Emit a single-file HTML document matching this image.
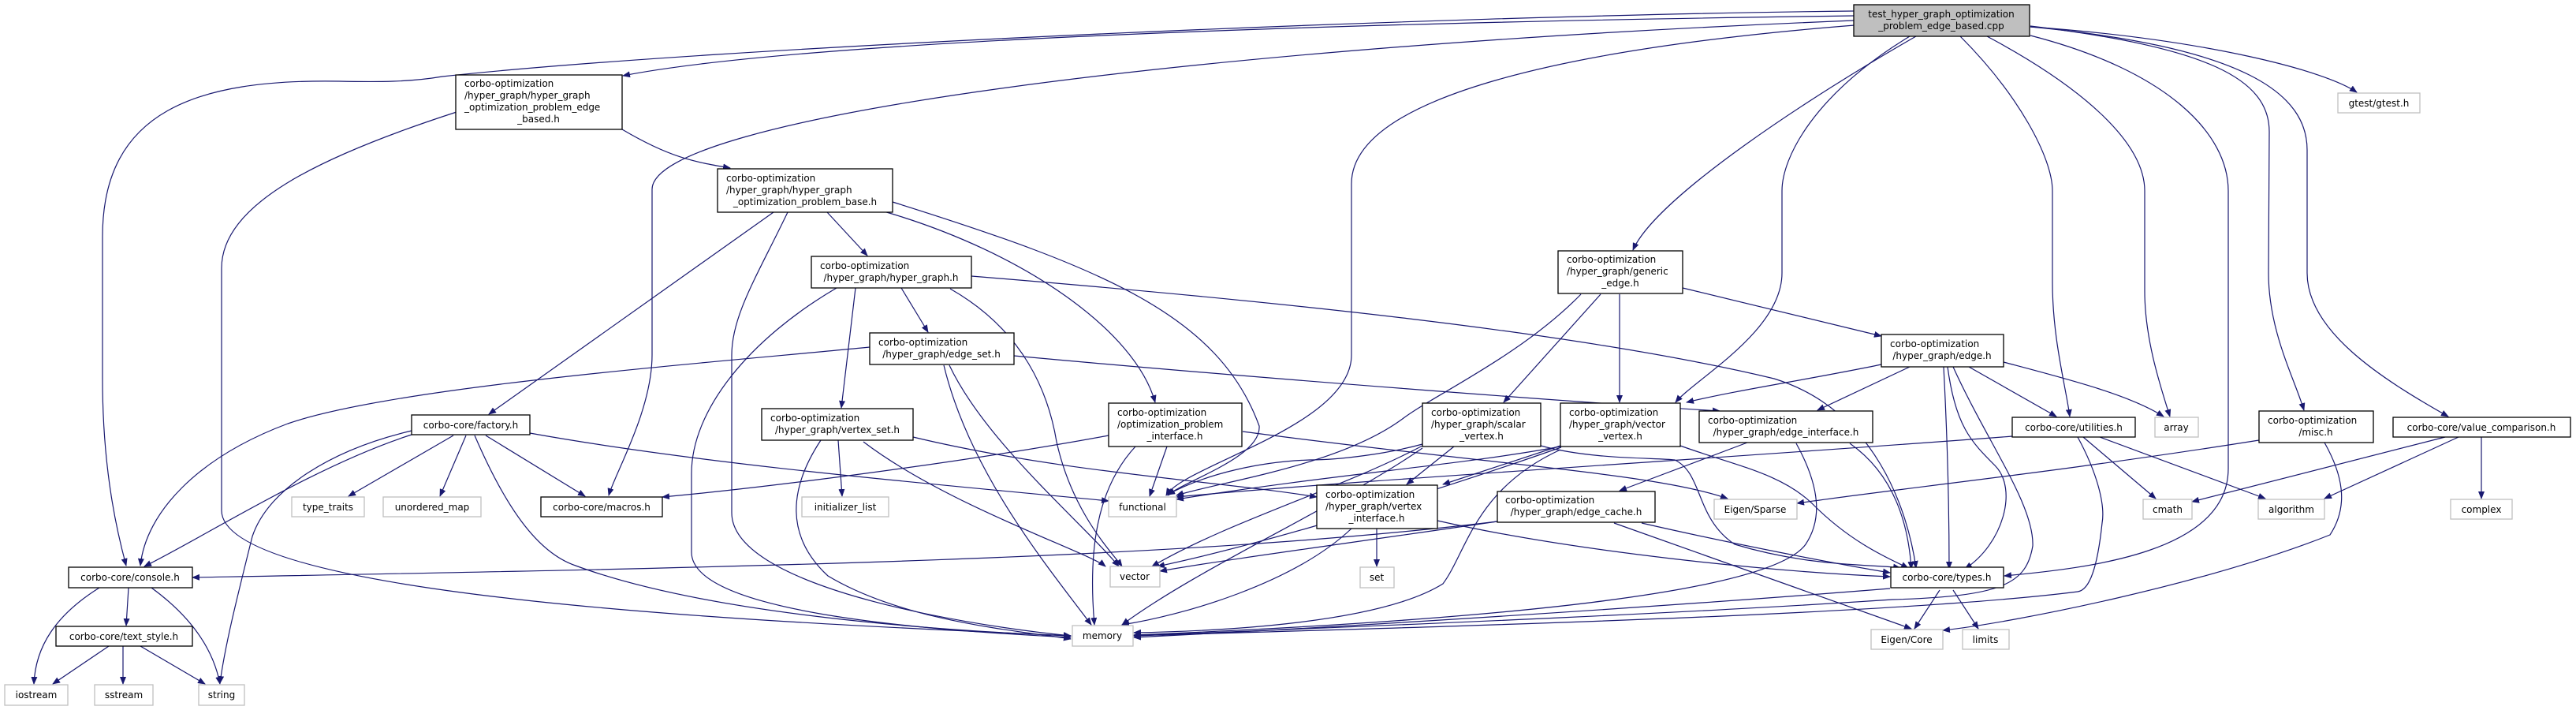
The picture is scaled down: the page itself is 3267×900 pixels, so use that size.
<!DOCTYPE html>
<html><head><meta charset="utf-8"><style>
html,body{margin:0;padding:0;background:#fff;}
svg{display:block;}
text{font-family:"DejaVu Sans","Liberation Sans",sans-serif;font-size:12px;fill:#000;}
.e{fill:none;stroke:#191970;stroke-width:1.2;marker-end:url(#a);}
.p{fill:#fff;stroke:#000;stroke-width:1.3;}
.s{fill:#fff;stroke:#bfbfbf;stroke-width:1.3;}
</style></head><body>
<svg width="3267" height="900" viewBox="0 0 3267 900" xmlns="http://www.w3.org/2000/svg">
<defs><marker id="a" markerWidth="10" markerHeight="8" refX="9" refY="4" orient="auto" markerUnits="userSpaceOnUse"><path d="M0,0 L10,4 L0,8 z" fill="#191970"/></marker></defs>

<path class="e" d="M2351,14 C1800,20 900,60 561,97 C520,104 480,104 430,103 C250,100 130,140 130,300 L130,480 C130,600 150,680 160,717"/>
<path class="e" d="M2351,20 C1600,30 1000,55 790,96"/>
<path class="e" d="M2351,26 C1500,60 827,150 827,240 L827,450 C827,520 780,600 772,628"/>
<path class="e" d="M2352,32 C2000,60 1714,120 1714,233 L1714,450 C1714,540 1500,590 1479,628"/>
<path class="e" d="M2430,46 C2300,120 2100,250 2071,317"/>
<path class="e" d="M2422,46 C2300,120 2260,200 2260,242 L2260,346 C2260,420 2150,480 2125,510"/>
<path class="e" d="M2486,46 C2560,120 2603,200 2603,242 L2603,358 C2603,430 2620,490 2625,528"/>
<path class="e" d="M2520,46 C2640,110 2720,180 2720,242 L2720,369 C2720,430 2740,490 2752,528"/>
<path class="e" d="M2575,45 C2750,90 2826,170 2826,242 L2826,594 C2826,700 2650,720 2542,730"/>
<path class="e" d="M2575,33 C2800,60 2878,100 2878,167 L2877,346 C2877,420 2910,480 2922,520"/>
<path class="e" d="M2575,34 C2850,60 2926,120 2926,190 L2926,346 C2926,420 3020,480 3105,528"/>
<path class="e" d="M2575,34 C2800,50 2950,90 2989,117"/>

<path class="e" d="M789,164 C850,200 880,205 926,213"/>
<path class="e" d="M579,142 C400,200 281,260 281,340 L281,647 C281,760 1000,790 1358,806"/>
<path class="e" d="M999,269 C960,350 928,400 928,450 L928,650 C928,740 1200,790 1358,806"/>
<path class="e" d="M981,269 L620,525"/>
<path class="e" d="M1049,269 L1100,324"/>
<path class="e" d="M1121,268 C1300,320 1440,420 1465,510"/>
<path class="e" d="M1132,256 C1400,340 1546,400 1597,540 C1600,580 1500,610 1481,628"/>
<path class="e" d="M1061,365 C950,430 877,520 877,600 L877,700 C877,780 1200,800 1358,808"/>
<path class="e" d="M1085,365 L1067,517"/>
<path class="e" d="M1143,365 L1177,421"/>
<path class="e" d="M1205,366 C1300,420 1330,500 1340,560 C1360,650 1410,700 1423,718"/>
<path class="e" d="M1232,350 C1600,380 2000,420 2250,480 C2380,520 2420,650 2430,720"/>
<path class="e" d="M1103,440 C900,460 500,490 365,537 C250,580 185,650 178,717"/>
<path class="e" d="M1286,451 C1600,480 2000,510 2181,521"/>
<path class="e" d="M1197,463 C1230,600 1330,720 1384,792"/>
<path class="e" d="M1204,463 C1250,560 1370,660 1419,718"/>
<path class="e" d="M1158,554 C1350,600 1550,610 1670,630"/>
<path class="e" d="M1063,558 L1068,629"/>
<path class="e" d="M1095,560 C1200,640 1380,700 1402,718"/>
<path class="e" d="M1041,558 C1000,620 996,680 1050,730 C1150,790 1300,800 1358,810"/>
<path class="e" d="M522,551 C400,590 260,680 183,718"/>
<path class="e" d="M522,546 C420,570 340,620 320,680 C300,760 285,820 279,866"/>
<path class="e" d="M575,552 L442,629"/>
<path class="e" d="M591,552 L558,629"/>
<path class="e" d="M616,552 L742,629"/>
<path class="e" d="M672,549 C900,590 1200,615 1406,635"/>
<path class="e" d="M602,552 C640,640 680,700 730,717 C900,780 1200,800 1358,806"/>
<path class="e" d="M126,745 C70,780 45,820 43,867"/>
<path class="e" d="M163,745 L160,793"/>
<path class="e" d="M192,745 C240,780 270,820 279,867"/>
<path class="e" d="M138,819 L67,867"/>
<path class="e" d="M156,819 L156,867"/>
<path class="e" d="M178,819 L260,867"/>
<path class="e" d="M1406,552 C1200,590 950,620 840,630"/>
<path class="e" d="M1480,566 L1458,629"/>
<path class="e" d="M1440,566 C1390,620 1380,700 1388,792"/>
<path class="e" d="M1576,547 C1900,590 2100,600 2191,632"/>
<path class="e" d="M1844,566 L1784,614"/>
<path class="e" d="M1804,563 C1760,575 1700,583 1661,583 C1600,585 1530,600 1481,627"/>
<path class="e" d="M1804,565 C1700,620 1560,660 1461,718"/>
<path class="e" d="M1804,568 C1700,640 1520,720 1423,792"/>
<path class="e" d="M1954,565 C2020,583 2100,580 2124,583 C2160,600 2150,657 2200,690 C2300,720 2380,715 2410,720"/>
<path class="e" d="M1979,565 L1830,614"/>
<path class="e" d="M1979,566 C1850,590 1700,600 1492,633"/>
<path class="e" d="M1980,567 C1800,630 1600,690 1468,718"/>
<path class="e" d="M1979,570 C1870,620 1860,700 1830,740 C1750,790 1550,800 1438,802"/>
<path class="e" d="M2131,565 C2200,590 2260,600 2300,640 C2350,690 2400,710 2420,720"/>
<path class="e" d="M2030,373 L1907,510"/>
<path class="e" d="M2054,373 L2054,510"/>
<path class="e" d="M2005,373 C1930,450 1820,500 1780,530 C1700,590 1550,610 1492,628"/>
<path class="e" d="M2134,365 L2386,426"/>
<path class="e" d="M2422,465 L2305,520"/>
<path class="e" d="M2386,462 C2300,480 2200,495 2139,510"/>
<path class="e" d="M2497,465 L2608,528"/>
<path class="e" d="M2541,459 C2620,480 2700,500 2744,528"/>
<path class="e" d="M2465,465 C2470,560 2472,650 2472,721"/>
<path class="e" d="M2470,465 C2480,540 2500,560 2530,590 C2560,620 2540,690 2492,721"/>
<path class="e" d="M2477,465 C2520,560 2580,640 2578,692 C2570,740 2540,756 2400,760 C2100,780 1700,795 1438,806"/>
<path class="e" d="M2216,561 L2054,622"/>
<path class="e" d="M2346,562 C2400,600 2420,660 2424,721"/>
<path class="e" d="M2278,562 C2310,620 2310,660 2290,690 C2240,760 1800,790 1438,805"/>
<path class="e" d="M1746,670 L1746,718"/>
<path class="e" d="M1714,670 C1640,740 1500,780 1423,792"/>
<path class="e" d="M1823,660 C2000,700 2250,725 2397,731"/>
<path class="e" d="M1899,661 C1500,710 900,720 244,732"/>
<path class="e" d="M1899,661 C1700,690 1550,710 1471,724"/>
<path class="e" d="M2082,663 C2200,690 2330,715 2397,726"/>
<path class="e" d="M2047,663 L2424,797"/>
<path class="e" d="M2552,553 C2200,580 1700,610 1492,630"/>
<path class="e" d="M2635,554 C2660,600 2670,640 2666,663 C2660,720 2650,748 2635,750 C2400,780 1800,795 1438,806"/>
<path class="e" d="M2642,554 L2734,632"/>
<path class="e" d="M2663,554 L2873,632"/>
<path class="e" d="M2865,558 C2600,600 2400,620 2279,638"/>
<path class="e" d="M2948,561 C2970,600 2980,640 2955,678 C2800,740 2550,790 2464,799"/>
<path class="e" d="M3101,554 L2780,636"/>
<path class="e" d="M3118,554 L2948,632"/>
<path class="e" d="M3147,554 L3147,632"/>
<path class="e" d="M2460,748 L2428,797"/>
<path class="e" d="M2477,748 L2509,797"/>
<path class="e" d="M2397,746 C2100,770 1700,795 1438,808"/>

<rect x="2351" y="6" width="223" height="40" fill="#bfbfbf" stroke="#000" stroke-width="1.3"/>
<text x="2462" y="22" text-anchor="middle">test_hyper_graph_optimization</text>
<text x="2462" y="37" text-anchor="middle">_problem_edge_based.cpp</text>

<rect class="s" x="2965" y="118" width="104" height="25"/><text x="3017" y="135" text-anchor="middle">gtest/gtest.h</text>

<rect class="p" x="578" y="95" width="211" height="69"/>
<text x="589" y="110">corbo-optimization</text><text x="589" y="125">/hyper_graph/hyper_graph</text><text x="589" y="140">_optimization_problem_edge</text><text x="683" y="155" text-anchor="middle">_based.h</text>

<rect class="p" x="910" y="214" width="222" height="55"/>
<text x="921" y="230">corbo-optimization</text><text x="921" y="245">/hyper_graph/hyper_graph</text><text x="1021" y="260" text-anchor="middle">_optimization_problem_base.h</text>

<rect class="p" x="1029" y="325" width="203" height="40"/>
<text x="1040" y="341">corbo-optimization</text><text x="1130" y="356" text-anchor="middle">/hyper_graph/hyper_graph.h</text>

<rect class="p" x="1103" y="422" width="183" height="40"/>
<text x="1114" y="438">corbo-optimization</text><text x="1194" y="453" text-anchor="middle">/hyper_graph/edge_set.h</text>

<rect class="p" x="1976" y="318" width="158" height="54"/>
<text x="1987" y="333">corbo-optimization</text><text x="1987" y="348">/hyper_graph/generic</text><text x="2055" y="363" text-anchor="middle">_edge.h</text>

<rect class="p" x="966" y="518" width="192" height="40"/>
<text x="977" y="534">corbo-optimization</text><text x="1062" y="549" text-anchor="middle">/hyper_graph/vertex_set.h</text>

<rect class="p" x="522" y="526" width="150" height="25"/><text x="597" y="543" text-anchor="middle">corbo-core/factory.h</text>
<rect class="s" x="370" y="630" width="92" height="25"/><text x="416" y="647" text-anchor="middle">type_traits</text>
<rect class="s" x="486" y="630" width="124" height="25"/><text x="548" y="647" text-anchor="middle">unordered_map</text>
<rect class="p" x="686" y="630" width="154" height="25"/><text x="763" y="647" text-anchor="middle">corbo-core/macros.h</text>
<rect class="s" x="1017" y="630" width="110" height="25"/><text x="1072" y="647" text-anchor="middle">initializer_list</text>

<rect class="p" x="87" y="719" width="157" height="26"/><text x="165" y="736" text-anchor="middle">corbo-core/console.h</text>
<rect class="p" x="71" y="794" width="173" height="25"/><text x="157" y="811" text-anchor="middle">corbo-core/text_style.h</text>
<rect class="s" x="6" y="868" width="80" height="26"/><text x="46" y="885" text-anchor="middle">iostream</text>
<rect class="s" x="120" y="868" width="74" height="26"/><text x="157" y="885" text-anchor="middle">sstream</text>
<rect class="s" x="252" y="868" width="58" height="26"/><text x="281" y="885" text-anchor="middle">string</text>

<rect class="p" x="1406" y="511" width="169" height="55"/>
<text x="1417" y="527">corbo-optimization</text><text x="1417" y="542">/optimization_problem</text><text x="1490" y="557" text-anchor="middle">_interface.h</text>
<rect class="s" x="1406" y="630" width="86" height="25"/><text x="1449" y="647" text-anchor="middle">functional</text>
<rect class="s" x="1408" y="718" width="63" height="26"/><text x="1439" y="735" text-anchor="middle">vector</text>
<rect class="s" x="1360" y="793" width="77" height="26"/><text x="1398" y="810" text-anchor="middle">memory</text>

<rect class="p" x="1670" y="615" width="153" height="55"/>
<text x="1681" y="631">corbo-optimization</text><text x="1681" y="646">/hyper_graph/vertex</text><text x="1746" y="661" text-anchor="middle">_interface.h</text>
<rect class="s" x="1725" y="719" width="43" height="26"/><text x="1746" y="736" text-anchor="middle">set</text>

<rect class="p" x="1804" y="511" width="150" height="55"/>
<text x="1815" y="527">corbo-optimization</text><text x="1815" y="542">/hyper_graph/scalar</text><text x="1879" y="557" text-anchor="middle">_vertex.h</text>

<rect class="p" x="1979" y="511" width="152" height="55"/>
<text x="1990" y="527">corbo-optimization</text><text x="1990" y="542">/hyper_graph/vector</text><text x="2055" y="557" text-anchor="middle">_vertex.h</text>

<rect class="p" x="1899" y="623" width="200" height="39"/>
<text x="1909" y="638">corbo-optimization</text><text x="1999" y="653" text-anchor="middle">/hyper_graph/edge_cache.h</text>

<rect class="p" x="2155" y="521" width="220" height="40"/>
<text x="2166" y="537">corbo-optimization</text><text x="2265" y="552" text-anchor="middle">/hyper_graph/edge_interface.h</text>
<rect class="s" x="2174" y="633" width="105" height="25"/><text x="2226" y="650" text-anchor="middle">Eigen/Sparse</text>

<rect class="p" x="2386" y="424" width="155" height="41"/>
<text x="2397" y="440">corbo-optimization</text><text x="2463" y="455" text-anchor="middle">/hyper_graph/edge.h</text>

<rect class="p" x="2552" y="529" width="156" height="25"/><text x="2630" y="546" text-anchor="middle">corbo-core/utilities.h</text>
<rect class="s" x="2733" y="529" width="55" height="25"/><text x="2760" y="546" text-anchor="middle">array</text>
<rect class="p" x="2865" y="521" width="145" height="40"/>
<text x="2876" y="537">corbo-optimization</text><text x="2937" y="552" text-anchor="middle">/misc.h</text>
<rect class="p" x="3035" y="529" width="225" height="25"/><text x="3147" y="546" text-anchor="middle">corbo-core/value_comparison.h</text>
<rect class="s" x="2718" y="633" width="62" height="25"/><text x="2749" y="650" text-anchor="middle">cmath</text>
<rect class="s" x="2864" y="633" width="84" height="25"/><text x="2906" y="650" text-anchor="middle">algorithm</text>
<rect class="s" x="3108" y="633" width="78" height="25"/><text x="3147" y="650" text-anchor="middle">complex</text>

<rect class="p" x="2398" y="719" width="143" height="26"/><text x="2469" y="736" text-anchor="middle">corbo-core/types.h</text>
<rect class="s" x="2373" y="798" width="91" height="25"/><text x="2418" y="815" text-anchor="middle">Eigen/Core</text>
<rect class="s" x="2489" y="798" width="59" height="25"/><text x="2518" y="815" text-anchor="middle">limits</text>
</svg>
</body></html>
